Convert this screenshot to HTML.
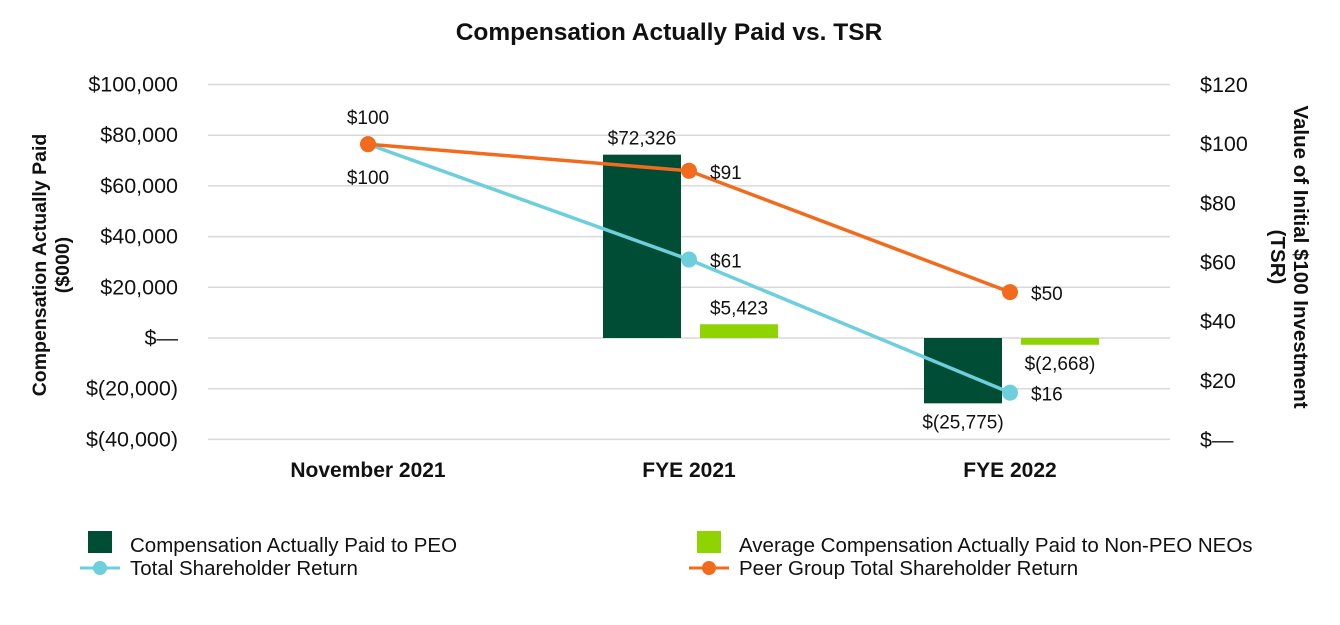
<!DOCTYPE html>
<html><head><meta charset="utf-8"><style>
body{margin:0;background:#fff;}
svg text{font-family:"Liberation Sans",sans-serif;fill:#111;}
</style></head><body>
<svg id="chart" width="1340" height="620" xmlns="http://www.w3.org/2000/svg">
<text x="669" y="40" text-anchor="middle" font-size="24.5" font-weight="bold">Compensation Actually Paid vs. TSR</text>
<g id="grid"></g><g id="bars"></g><g id="lines"></g><g id="labels"></g>
<text transform="translate(52,265) rotate(-90)" text-anchor="middle" font-size="19.5" font-weight="bold"><tspan x="0" dy="-6">Compensation Actually Paid</tspan><tspan x="0" dy="23">($000)</tspan></text>
<text transform="translate(1288,257) rotate(90)" text-anchor="middle" font-size="20.5" font-weight="bold"><tspan x="0" dy="-6">Value of Initial $100 Investment</tspan><tspan x="0" dy="23">(TSR)</tspan></text>
<g>
<rect x="88" y="531" width="24" height="22" fill="#004d36"/>
<text x="130" y="552" font-size="20.5">Compensation Actually Paid to PEO</text>
<rect x="697" y="531" width="24" height="22" fill="#8fd400"/>
<text x="739" y="552" font-size="20.5">Average Compensation Actually Paid to Non-PEO NEOs</text>
<line x1="80" y1="568" x2="120" y2="568" stroke="#6dcfdc" stroke-width="3"/>
<circle cx="100" cy="568" r="7" fill="#6dcfdc"/>
<text x="130" y="575" font-size="20.5">Total Shareholder Return</text>
<line x1="689" y1="568" x2="729" y2="568" stroke="#f26b1d" stroke-width="3"/>
<circle cx="709" cy="568" r="7" fill="#f26b1d"/>
<text x="739" y="575" font-size="20.5">Peer Group Total Shareholder Return</text>
</g>
</svg>
<script>
const categories=["November 2021","FYE 2021","FYE 2022"];
const peoValues=[null,72326,-25775];
const neoValues=[null,5423,-2668];
const tsrValues=[100,61,16];
const peerValues=[100,91,50];
const leftTicks=[100000,80000,60000,40000,20000,0,-20000,-40000];
const rightTicks=[120,100,80,60,40,20,0];
const NS="http://www.w3.org/2000/svg";
const yL=v=>338-v*(50.7/20000);
const yR=v=>440-v*(355/120);
const xC=i=>368+i*321;
function mk(t,a,p){const e=document.createElementNS(NS,t);for(const k in a)e.setAttribute(k,a[k]);document.getElementById(p).appendChild(e);return e;}
const fmt=v=>v===0?"$\u2014":(v<0?"$("+Math.abs(v).toLocaleString("en-US")+")":"$"+v.toLocaleString("en-US"));
leftTicks.forEach(v=>{
 const l=mk("line",{x1:208,x2:1170,y1:yL(v),y2:yL(v),stroke:"#d9d9d9","stroke-width":1.5},"grid");
 
 
 const t=mk("text",{x:178,y:yL(v)+7,"text-anchor":"end","font-size":21.5},"grid");t.textContent=fmt(v);
 
 
});
rightTicks.forEach(v=>{
 const t=mk("text",{x:1200,y:yR(v)+7,"font-size":21.5},"grid");t.textContent=v===0?"$\u2014":"$"+v;
 
 
});
categories.forEach((c,i)=>{
 const t=mk("text",{x:xC(i),y:477,"text-anchor":"middle","font-size":21,"font-weight":"bold"},"grid");t.textContent=c;
 
 
});
function bars(vals,off,col,name){vals.forEach((v,i)=>{if(v==null)return;
 const y0=yL(0),y1=yL(v);
 const r=mk("rect",{x:xC(i)+off,y:Math.min(y0,y1),width:78,height:Math.abs(y1-y0),fill:col},"bars");
 
 
 const t=mk("text",{x:xC(i)+off+39,y:v>=0?y1-10:y1+25,"text-anchor":"middle","font-size":19},"labels");t.textContent=fmt(v);
 
 
});}
bars(peoValues,-86,"#004d36","bar-peo");
bars(neoValues,11,"#8fd400","bar-neo");
function line(vals,col,name,below){
 const pl=mk("polyline",{points:vals.map((v,i)=>xC(i)+","+yR(v)).join(" "),fill:"none",stroke:col,"stroke-width":3.5},"lines");
 
 
 vals.forEach((v,i)=>{
  const c=mk("circle",{cx:xC(i),cy:yR(v),r:8,fill:col},"lines");
  
  
  const a=i===0?{x:xC(i),y:below?yR(v)+40:yR(v)-20,"text-anchor":"middle"}:{x:xC(i)+21,y:yR(v)+8};
  a["font-size"]=19;
  const t=mk("text",a,"labels");t.textContent="$"+v;
  
  
 });
}
line(tsrValues,"#6dcfdc","tsr",true);
line(peerValues,"#f26b1d","peer",false);
</script>
</body></html>
